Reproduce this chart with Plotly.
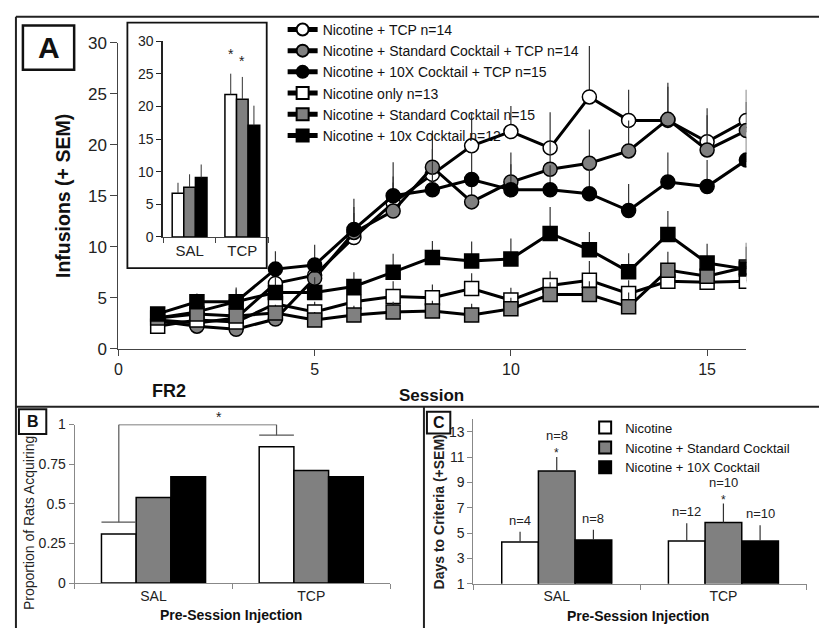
import plotly.graph_objects as go

W, H = 819, 638
FONT = "Liberation Sans, Arial, sans-serif"


def px(x):
    return x / W


def py(y):
    return 1 - y / H


# ---------------- Panel A data ----------------
sessions = list(range(1, 17))
nic_tcp = [2.8, 2.5, 3.0, 6.4, 7.2, 10.9, 14.3, 17.1, 19.9, 21.3, 19.7, 24.7, 22.4, 22.4, 20.3, 22.4]
nic_tcp_sem = [0.7, 0.7, 0.9, 1.6, 1.8, 2.4, 2.6, 2.5, 3.2, 2.5, 3.5, 5.0, 3.0, 3.3, 3.3, 3.0]
std_tcp = [2.7, 2.2, 1.9, 2.9, 6.9, 11.4, 13.5, 17.8, 14.4, 16.35, 17.6, 18.2, 19.4, 22.5, 19.5, 21.4]
std_tcp_sem = [0.6, 0.6, 0.8, 1.2, 1.8, 2.5, 2.8, 3.6, 2.8, 2.9, 2.8, 3.3, 3.0, 3.6, 3.4, 2.8]
x10_tcp = [3.0, 3.6, 4.6, 7.8, 8.2, 11.7, 15.0, 15.6, 16.6, 15.6, 15.6, 15.2, 13.55, 16.35, 15.9, 18.5]
x10_tcp_sem = [0.7, 0.8, 1.2, 1.75, 2.0, 3.0, 3.3, 2.8, 2.7, 2.5, 2.4, 2.3, 2.6, 2.9, 2.6, 2.2]
nic_only = [2.2, 2.8, 2.6, 4.4, 3.6, 4.6, 5.1, 5.0, 5.9, 4.76, 6.2, 6.7, 5.4, 6.6, 6.5, 6.6]
nic_only_sem = [0.6, 0.6, 0.7, 0.9, 1.0, 1.2, 1.5, 1.3, 1.5, 1.2, 1.4, 1.9, 1.3, 1.4, 1.6, 1.5]
std = [3.0, 3.4, 3.2, 3.5, 2.8, 3.3, 3.6, 3.7, 3.3, 3.9, 5.3, 5.3, 4.1, 7.7, 7.1, 8.0]
std_sem = [0.5, 0.5, 0.6, 0.8, 0.8, 0.9, 1.0, 1.0, 1.1, 1.1, 1.2, 1.3, 1.4, 1.8, 1.7, 2.0]
x10 = [3.4, 4.6, 4.6, 5.5, 5.5, 6.1, 7.5, 8.95, 8.6, 8.8, 11.3, 9.7, 7.55, 11.2, 8.4, 7.8]
x10_sem = [0.6, 0.8, 1.4, 1.5, 1.5, 1.4, 1.8, 1.6, 1.9, 2.0, 2.6, 1.75, 1.8, 2.3, 1.9, 2.6]

series_names = [
    "Nicotine + TCP n=14",
    "Nicotine + Standard Cocktail + TCP n=14",
    "Nicotine + 10X Cocktail + TCP n=15",
    "Nicotine only n=13",
    "Nicotine + Standard Cocktail n=15",
    "Nicotine + 10x Cocktail n=12",
]

# ---------------- Inset / B / C data ----------------
injections = ["SAL", "TCP"]
group_names = ["Nicotine", "Nicotine + Standard Cocktail", "Nicotine + 10X Cocktail"]
inset_vals = [[6.7, 21.8], [7.6, 21.1], [9.1, 17.1]]
inset_sem = [[1.6, 3.2], [2.0, 3.4], [2.0, 3.0]]
inset_stars = [["", "*"], ["", "*"], ["", ""]]

prop_vals = [[0.31, 0.86], [0.54, 0.71], [0.67, 0.67]]

days_vals = [[4.3, 4.37], [9.9, 5.83], [4.45, 4.37]]
days_sem = [[0.8, 1.4], [1.1, 1.5], [0.8, 1.25]]
days_n = [["n=4", "n=12"], ["n=8", "n=10"], ["n=8", "n=10"]]
days_star = [["", ""], ["*", "*"], ["", ""]]

fills = ["white", "#808080", "black"]
BARGAP = 0.34

fig = go.Figure()

# Panel A lines
styles = [("circle", "white"), ("circle", "#808080"), ("circle", "black"),
          ("square", "white"), ("square", "#808080"), ("square", "black")]
vals_list = [nic_tcp, std_tcp, x10_tcp, nic_only, std, x10]
sem_list = [nic_tcp_sem, std_tcp_sem, x10_tcp_sem, nic_only_sem, std_sem, x10_sem]
for name, vals, sem, (sym, col) in zip(series_names, vals_list, sem_list, styles):
    fig.add_trace(go.Scatter(
        x=sessions, y=vals, name=name, mode="lines+markers",
        line=dict(color="black", width=3),
        marker=dict(symbol=sym, size=14, color=col, line=dict(color="black", width=1.5)),
        error_y=dict(type="data", array=sem, arrayminus=[0] * len(sem), symmetric=False,
                     width=0, thickness=1.2, color="#333"),
        xaxis="x", yaxis="y", legend="legend"))

# Inset bars
for i, col in enumerate(fills):
    fig.add_trace(go.Bar(
        x=injections, y=inset_vals[i], name=group_names[i],
        marker=dict(color=col, line=dict(color="black", width=1.5)),
        error_y=dict(type="data", array=inset_sem[i], arrayminus=[0, 0], symmetric=False,
                     width=0, thickness=1, color="#333"),
        xaxis="x2", yaxis="y2", showlegend=False))

# Panel B bars
for i, col in enumerate(fills):
    fig.add_trace(go.Bar(
        x=injections, y=prop_vals[i], name=group_names[i],
        marker=dict(color=col, line=dict(color="black", width=1.5)),
        xaxis="x3", yaxis="y3", showlegend=False))

# Panel C bars
for i, col in enumerate(fills):
    fig.add_trace(go.Bar(
        x=injections, y=days_vals[i], name=group_names[i],
        marker=dict(color=col, line=dict(color="black", width=1.5)),
        error_y=dict(type="data", array=days_sem[i], arrayminus=[0, 0], symmetric=False,
                     width=0, thickness=1.2, color="#333"),
        xaxis="x4", yaxis="y4", showlegend=True, legend="legend2"))

axis_common = dict(showgrid=False, zeroline=False, showline=True, ticks="outside")


def tf(size):
    return dict(size=size, color="#222")


fig.update_layout(
    width=W, height=H, margin=dict(l=0, r=0, t=0, b=0),
    paper_bgcolor="white", plot_bgcolor="rgba(0,0,0,0)",
    barmode="group", bargap=BARGAP, bargroupgap=0,
    font=dict(family=FONT, color="#1a1a1a"),
    xaxis=dict(domain=[px(115), px(746)], range=[0, 16], anchor="y",
               tickvals=[0, 5, 10, 15], linecolor="#444", tickcolor="#444", ticklen=6,
               tickfont=tf(16), **axis_common),
    yaxis=dict(domain=[py(350), py(35)], range=[0, 30], anchor="x", dtick=5,
               linecolor="#444", tickcolor="#444", ticklen=7, tickfont=tf(17), **axis_common),
    xaxis2=dict(domain=[px(160), px(266)], range=[-0.5, 1.5], anchor="y2",
                tickson="boundaries", linecolor="#444", tickcolor="#444", ticklen=5,
                tickfont=tf(15), **axis_common),
    yaxis2=dict(domain=[py(235), py(33)], range=[0, 30], anchor="x2", dtick=5,
                linecolor="#222", tickcolor="#222", ticklen=5, linewidth=1.5,
                tickfont=tf(14), **axis_common),
    xaxis3=dict(domain=[px(71), px(388)], range=[-0.5, 1.5], anchor="y3",
                tickson="boundaries", linecolor="#888", tickcolor="#888", ticklen=5,
                tickfont=tf(14), **axis_common),
    yaxis3=dict(domain=[py(591.7), py(428.3)], range=[0, 1], anchor="x3",
                tickvals=[0, 0.25, 0.5, 0.75, 1], ticktext=["0", "0.25", "0.5", "0.75", "1"],
                linecolor="#888", tickcolor="#888", ticklen=5, tickfont=tf(14), **axis_common),
    xaxis4=dict(domain=[px(471.7), px(806.7)], range=[-0.5, 1.5], anchor="y4",
                tickson="boundaries", linecolor="#888", tickcolor="#888", ticklen=5,
                tickfont=tf(14), **axis_common),
    yaxis4=dict(domain=[py(592.3), py(422.7)], range=[1, 14], anchor="x4",
                tickvals=[1, 3, 5, 7, 9, 11, 13],
                linecolor="#888", tickcolor="#888", ticklen=5, tickfont=tf(14), **axis_common),
    legend=dict(x=px(280), y=py(5), xanchor="left", yanchor="top",
                font=dict(size=14, color="#111"), bgcolor="rgba(0,0,0,0)",
                itemwidth=30, tracegroupgap=0, itemsizing="constant"),
    legend2=dict(x=px(584), y=py(416), xanchor="left", yanchor="top",
                 font=dict(size=13, color="#111"), bgcolor="rgba(0,0,0,0)",
                 itemwidth=30, tracegroupgap=0, itemsizing="constant"),
)

shapes = []
LINE = dict(color="#222", width=2)
# Outer frame and dividers
shapes.append(dict(type="line", xref="paper", yref="paper", x0=px(12), x1=px(12), y0=py(8), y1=py(638), line=LINE))
shapes.append(dict(type="line", xref="paper", yref="paper", x0=px(12), x1=px(819), y0=py(8), y1=py(8), line=LINE))
shapes.append(dict(type="line", xref="paper", yref="paper", x0=px(12), x1=px(819), y0=py(410), y1=py(410), line=LINE))
shapes.append(dict(type="line", xref="paper", yref="paper", x0=px(422), x1=px(422), y0=py(410), y1=py(638), line=LINE))
# Panel label boxes
shapes.append(dict(type="rect", xref="paper", yref="paper", x0=px(19), x1=px(70.5), y0=py(62.5), y1=py(17), line=dict(color="#111", width=2.5)))
shapes.append(dict(type="rect", xref="paper", yref="paper", x0=px(15), x1=px(42.5), y0=py(438), y1=py(412.5), line=dict(color="#111", width=2)))
shapes.append(dict(type="rect", xref="paper", yref="paper", x0=px(425), x1=px(448.5), y0=py(437.5), y1=py(415), line=dict(color="#111", width=2)))
# Inset frame
shapes.append(dict(type="rect", xref="paper", yref="paper", x0=px(124), x1=px(264), y0=py(267), y1=py(14), line=dict(color="#111", width=1.8)))

# Significance bracket in panel B (data coordinates)
w = (1 - BARGAP) / 3
br = dict(color="#555", width=1.2)
sal_c, tcp_c = 0 - w, 1 - w
shapes += [
    dict(type="line", xref="x3", yref="y3", x0=sal_c, x1=sal_c, y0=0.384, y1=1.0, line=br),
    dict(type="line", xref="x3", yref="y3", x0=sal_c, x1=tcp_c, y0=1.0, y1=1.0, line=br),
    dict(type="line", xref="x3", yref="y3", x0=tcp_c, x1=tcp_c, y0=1.0, y1=0.933, line=br),
    dict(type="line", xref="x3", yref="y3", x0=sal_c - w / 2, x1=sal_c + w / 2, y0=0.384, y1=0.384, line=br),
    dict(type="line", xref="x3", yref="y3", x0=tcp_c - w / 2, x1=tcp_c + w / 2, y0=0.933, y1=0.933, line=br),
]
fig.update_layout(shapes=shapes)

ann = []


def text(x, y, t, size, bold=False, angle=0, color="#111"):
    ann.append(dict(xref="paper", yref="paper", x=px(x), y=py(y), text=f"<b>{t}</b>" if bold else t,
                    showarrow=False, textangle=angle, font=dict(size=size, color=color),
                    xanchor="center", yanchor="middle"))


text(45, 40, "A", 30, bold=True)
text(29, 425, "B", 16, bold=True)
text(437, 426, "C", 16, bold=True)
text(60, 193, "Infusions (+ SEM)", 19.5, bold=True, angle=-90)
text(430, 398, "Session", 17, bold=True)
text(166, 394, "FR2", 18, bold=True)
text(25, 530, "Proportion of Rats Acquiring", 14, angle=-90, color="#222")
text(228, 625, "Pre-Session Injection", 14, bold=True)
text(437, 518, "Days to Criteria (+SEM)", 14, bold=True, angle=-90, color="#222")
text(637, 626, "Pre-Session Injection", 14, bold=True)

# star on bracket in B
ann.append(dict(xref="x3", yref="y3", x=0.415, y=1.0, text="*", showarrow=False,
                yanchor="bottom", font=dict(size=14, color="#222"), yshift=-2))

offsets = [-w, 0, w]
# inset stars
for i in range(3):
    for j in range(2):
        if inset_stars[i][j]:
            ann.append(dict(xref="x2", yref="y2", x=j + offsets[i], y=inset_vals[i][j] + inset_sem[i][j],
                            text=inset_stars[i][j], showarrow=False, yanchor="bottom",
                            yshift=10 - 4 * i, font=dict(size=14, color="#222")))
# C labels
for i in range(3):
    for j in range(2):
        top = days_vals[i][j] + days_sem[i][j]
        if days_star[i][j]:
            ann.append(dict(xref="x4", yref="y4", x=j + offsets[i], y=top, text="*", showarrow=False,
                            yanchor="bottom", yshift=-5, font=dict(size=12, color="#222")))
            ann.append(dict(xref="x4", yref="y4", x=j + offsets[i], y=top, text=days_n[i][j], showarrow=False,
                            yanchor="bottom", yshift=12, font=dict(size=13, color="#222")))
        else:
            ann.append(dict(xref="x4", yref="y4", x=j + offsets[i], y=top, text=days_n[i][j], showarrow=False,
                            yanchor="bottom", yshift=2, font=dict(size=13, color="#222")))

fig.update_layout(annotations=ann)
fig.write_html("out.html")
